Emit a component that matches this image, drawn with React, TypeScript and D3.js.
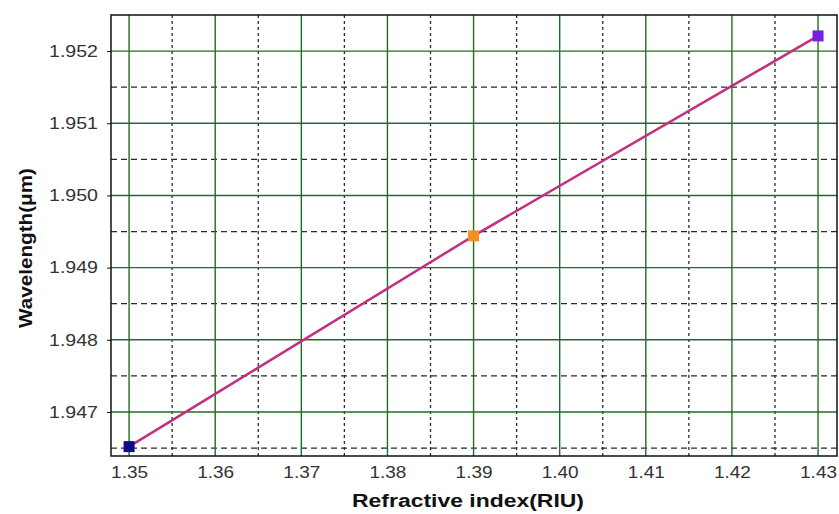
import { useEffect, useRef } from 'react';
import * as d3 from 'd3';

const refractiveIndex = [1.35, 1.39, 1.43];
const wavelength = [1.94652, 1.94944, 1.95221];
const markerColors = ['#0c0c8c', '#f2921e', '#7420e0'];

const xTicks = [1.35, 1.36, 1.37, 1.38, 1.39, 1.4, 1.41, 1.42, 1.43];
const xMinor = [1.355, 1.365, 1.375, 1.385, 1.395, 1.405, 1.415, 1.425];
const yTicks = [1.947, 1.948, 1.949, 1.95, 1.951, 1.952];
const yMinor = [1.9465, 1.9475, 1.9485, 1.9495, 1.9505, 1.9515];

export default function App() {
  const svgRef = useRef<SVGSVGElement>(null);
  const width = 839;
  const height = 514;

  useEffect(() => {
    if (!svgRef.current) return;
    const svg = d3.select(svgRef.current);
    svg.selectAll('*').remove();

    const margin = { top: 15, right: 2, bottom: 58, left: 111 };
    const innerW = width - margin.left - margin.right;
    const innerH = height - margin.top - margin.bottom;

    const x = d3.scaleLinear().domain([1.3479, 1.4322]).range([0, innerW]);
    const y = d3.scaleLinear().domain([1.94639, 1.9525]).range([innerH, 0]);

    svg.append('rect').attr('width', width).attr('height', height).attr('fill', '#fff');

    const g = svg.append('g').attr('transform', `translate(${margin.left},${margin.top})`);

    // dashed minor grid
    g.selectAll('.xminor')
      .data(xMinor)
      .enter()
      .append('line')
      .attr('x1', (d) => x(d))
      .attr('x2', (d) => x(d))
      .attr('y1', 0)
      .attr('y2', innerH)
      .attr('stroke', '#2a2a2a')
      .attr('stroke-width', 1.3)
      .attr('stroke-dasharray', '3,3');

    g.selectAll('.yminor')
      .data(yMinor)
      .enter()
      .append('line')
      .attr('x1', 0)
      .attr('x2', innerW)
      .attr('y1', (d) => y(d))
      .attr('y2', (d) => y(d))
      .attr('stroke', '#2a2a2a')
      .attr('stroke-width', 1.3)
      .attr('stroke-dasharray', '6,4');

    // solid green major grid
    g.selectAll('.xmajor')
      .data(xTicks)
      .enter()
      .append('line')
      .attr('x1', (d) => x(d))
      .attr('x2', (d) => x(d))
      .attr('y1', 0)
      .attr('y2', innerH)
      .attr('stroke', '#1f6e22')
      .attr('stroke-width', 1.4);

    g.selectAll('.ymajor')
      .data(yTicks)
      .enter()
      .append('line')
      .attr('x1', 0)
      .attr('x2', innerW)
      .attr('y1', (d) => y(d))
      .attr('y2', (d) => y(d))
      .attr('stroke', '#1f6e22')
      .attr('stroke-width', 1.4);

    // frame
    g.append('rect')
      .attr('width', innerW)
      .attr('height', innerH)
      .attr('fill', 'none')
      .attr('stroke', '#111')
      .attr('stroke-width', 1.5);

    // axes
    const xAxis = g
      .append('g')
      .attr('transform', `translate(0,${innerH})`)
      .call(d3.axisBottom(x).tickValues(xTicks).tickFormat(d3.format('.2f')).tickSize(0).tickPadding(10));
    xAxis.select('.domain').remove();
    xAxis
      .selectAll('text')
      .attr('textLength', 37)
      .attr('lengthAdjust', 'spacingAndGlyphs')
      .style('font-family', 'Liberation Sans, Arial, sans-serif')
      .style('font-size', '16.5px')
      .style('fill', '#333');

    const yAxis = g
      .append('g')
      .call(d3.axisLeft(y).tickValues(yTicks).tickFormat(d3.format('.3f')).tickSize(4).tickPadding(9));
    yAxis.select('.domain').remove();
    yAxis.selectAll('line').attr('stroke', '#111');
    yAxis
      .selectAll('text')
      .attr('textLength', 49)
      .attr('lengthAdjust', 'spacingAndGlyphs')
      .style('font-family', 'Liberation Sans, Arial, sans-serif')
      .style('font-size', '16.5px')
      .style('fill', '#333');

    // line
    const pts = refractiveIndex.map((v, i) => ({ x: v, y: wavelength[i], c: markerColors[i] }));
    const line = d3
      .line<{ x: number; y: number }>()
      .x((d) => x(d.x))
      .y((d) => y(d.y));

    g.append('path')
      .datum(pts)
      .attr('d', line)
      .attr('fill', 'none')
      .attr('stroke', '#c2307f')
      .attr('stroke-width', 2.5);

    const ms = 11;
    g.selectAll('.marker')
      .data(pts)
      .enter()
      .append('rect')
      .attr('x', (d) => x(d.x) - ms / 2)
      .attr('y', (d) => y(d.y) - ms / 2)
      .attr('width', ms)
      .attr('height', ms)
      .attr('fill', (d) => d.c);

    // axis titles
    svg
      .append('text')
      .attr('x', 352)
      .attr('y', 507)
      .attr('textLength', 232)
      .attr('lengthAdjust', 'spacingAndGlyphs')
      .style('font-family', 'Liberation Sans, Arial, sans-serif')
      .style('font-size', '18px')
      .style('font-weight', 'bold')
      .style('fill', '#111')
      .text('Refractive index(RIU)');

    svg
      .append('text')
      .attr('transform', 'translate(32,328) rotate(-90)')
      .attr('textLength', 160)
      .attr('lengthAdjust', 'spacingAndGlyphs')
      .style('font-family', 'Liberation Sans, Arial, sans-serif')
      .style('font-size', '18px')
      .style('font-weight', 'bold')
      .style('fill', '#111')
      .text('Wavelength(μm)');
  }, []);

  return (
    <div style={{ position: 'absolute', left: 0, top: 0 }}>
      <svg ref={svgRef} width={width} height={height} style={{ display: 'block' }} />
    </div>
  );
}
